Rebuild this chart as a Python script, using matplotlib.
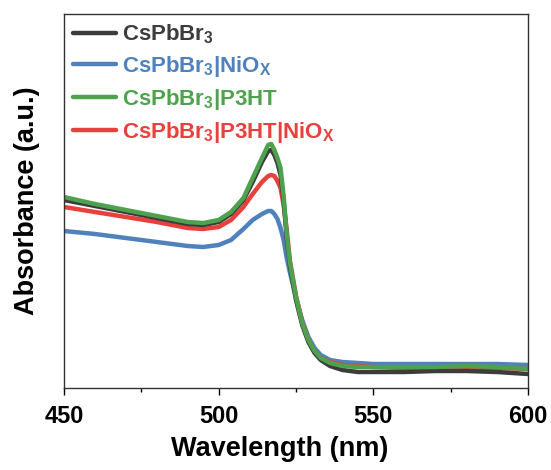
import matplotlib
matplotlib.use("Agg")
import matplotlib.pyplot as plt
from matplotlib.ticker import MultipleLocator

plt.rcParams["font.family"] = ["Liberation Sans", "DejaVu Sans"]
plt.rcParams["font.weight"] = "bold"
plt.rcParams["mathtext.fontset"] = "custom"
plt.rcParams["mathtext.bf"] = "Liberation Sans:bold"
plt.rcParams["mathtext.rm"] = "Liberation Sans:bold"
plt.rcParams["mathtext.default"] = "bf"

# Wavelength grid (nm); absorbance (arbitrary units, given as
# pixel rows of the original plot and converted below)
wavelength = [450, 460, 470, 480, 490, 495, 500, 504, 508, 511, 514, 516, 517, 518,
              519, 520, 521, 522, 523, 525, 527, 529, 531, 533, 536, 540, 545, 550,
              560, 570, 580, 590, 600]

px_black = [200, 206, 212, 218, 224, 225, 222, 214, 200, 182, 162, 151, 150, 155,
            163, 175, 200, 238, 265, 300, 325, 342, 353, 360, 366, 370, 372, 372,
            372, 371, 371, 372, 374]
px_green = [197, 204, 210, 216, 222, 223, 220, 212, 198, 178, 158, 145, 144, 150,
            158, 168, 196, 234, 262, 297, 323, 340, 351, 358, 363, 366, 367, 367,
            367, 367, 366, 367, 369]
px_red = [207, 212, 217, 222, 228, 229, 227, 220, 207, 194, 182, 176, 175, 176,
          181, 188, 205, 230, 260, 296, 322, 340, 351, 358, 362, 365, 366, 367,
          368, 368, 368, 368, 369]
px_blue = [231, 234, 238, 242, 246, 247, 245, 240, 229, 220, 214, 211, 211, 214,
           219, 228, 240, 258, 272, 298, 320, 337, 348, 355, 360, 362, 363, 364,
           364, 364, 364, 364, 365]


def to_abs(vals):
    return [(388 - v) / 374 for v in vals]


cspbbr3 = to_abs(px_black)
cspbbr3_nio = to_abs(px_blue)
cspbbr3_p3ht = to_abs(px_green)
cspbbr3_p3ht_nio = to_abs(px_red)

labels = [r"CsPbBr$_\mathbf{3}$",
          r"CsPbBr$_\mathbf{3}$|NiO$_\mathbf{X}$",
          r"CsPbBr$_\mathbf{3}$|P3HT",
          r"CsPbBr$_\mathbf{3}$|P3HT|NiO$_\mathbf{X}$"]
colors = ["#3c3c3c", "#4f81bd", "#4ea24e", "#e8403c"]
series = [cspbbr3, cspbbr3_nio, cspbbr3_p3ht, cspbbr3_p3ht_nio]

fig = plt.figure(figsize=(5.51, 4.70), dpi=100)
ax = fig.add_axes([64 / 551, 82 / 470, 464 / 551, 374 / 470])

# draw order: blue, red, black, green on top
order = [1, 3, 0, 2]
lines = {}
for i in order:
    lines[i], = ax.plot(wavelength, series[i], color=colors[i], lw=3.2,
                        solid_joinstyle="round", solid_capstyle="round",
                        label=labels[i])

ax.set_xlim(450, 600)
ax.set_ylim(0, 1)
ax.set_yticks([])
ax.xaxis.set_major_locator(MultipleLocator(50))
ax.xaxis.set_minor_locator(MultipleLocator(25))
ax.tick_params(axis="x", which="major", direction="out", length=5, width=1,
               labelsize=17, pad=7)
ax.tick_params(axis="x", which="minor", direction="out", length=3, width=1)
for lab in ax.get_xticklabels():
    lab.set_fontweight("bold")
for sp in ax.spines.values():
    sp.set_linewidth(1)
    sp.set_color("#333333")

ax.set_xlabel("Wavelength (nm)", fontsize=19.5, fontweight="bold")
ax.xaxis.set_label_coords(0.465, -0.128)
ax.set_ylabel("Absorbance (a.u.)", fontsize=19.5, fontweight="bold")
ax.yaxis.set_label_coords(-0.052, 0.5)

leg = ax.legend([lines[i] for i in range(4)], labels, loc="upper left",
                frameon=False, fontsize=16, handlelength=1.95, handletextpad=0.28,
                borderaxespad=0.2, labelspacing=0.35, borderpad=0.2)
for txt, c in zip(leg.get_texts(), colors):
    txt.set_color(c)
    txt.set_fontweight("bold")

fig.savefig("out.png", dpi=100)
